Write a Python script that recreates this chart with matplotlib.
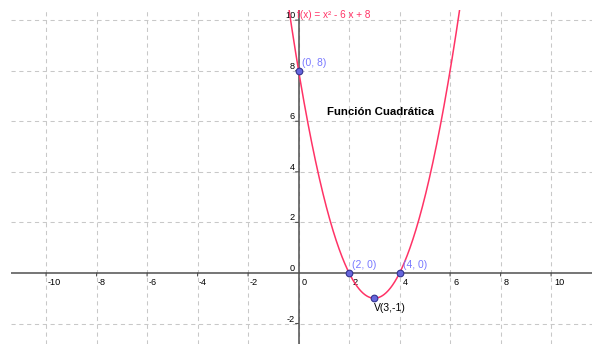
import matplotlib
matplotlib.use("Agg")
import matplotlib.pyplot as plt
import matplotlib.transforms as mtransforms
import numpy as np

plt.rcParams["font.family"] = ["Liberation Sans", "DejaVu Sans"]

# f(x) = a x^2 + b x + c
a, b, c = 1, -6, 8
func_label = "f(x) = x² - 6 x + 8"
title_text = "Función Cuadrática"

x_ticks = [-10, -8, -6, -4, -2, 0, 2, 4, 6, 8, 10]
y_ticks = [-2, 0, 2, 4, 6, 8, 10]

# intercepts and vertex
pt_x = [0, 2, 4, 3]
pt_y = [8, 0, 0, -1]
pt_labels = ["(0, 8)", "(2, 0)", "(4, 0)", "V(3,-1)"]

x_range = (-11.39, 11.62)
y_range = (-2.81, 10.40)

curve_color = "#FF3366"
point_label_color = "#7878FF"
grid_color = "#C8C8C8"
axis_color = "#505050"


def offset(ax, dx_px, dy_px):
    fig = ax.figure
    return ax.transData + mtransforms.ScaledTranslation(
        dx_px / fig.dpi, dy_px / fig.dpi, fig.dpi_scale_trans
    )


def tick_mark(ax, x, y, dx, dy):
    ax.annotate("", xy=(x, y), xytext=(dx, dy), textcoords="offset points",
                arrowprops=dict(arrowstyle="-", color=axis_color, lw=0.8,
                                shrinkA=0, shrinkB=0))


def main():
    fig = plt.figure(figsize=(5.92, 3.44), dpi=100)
    ax = fig.add_axes([11 / 592, 0, 581 / 592, 334 / 344])
    ax.set_xlim(*x_range)
    ax.set_ylim(*y_range)
    ax.set_axis_off()

    # dashed grid
    for v in x_ticks:
        ax.axvline(v, color=grid_color, lw=0.75, dashes=(4, 3.5), zorder=1)
    for v in y_ticks:
        if v != 0:
            ax.axhline(v, color=grid_color, lw=0.75, dashes=(4, 3.5), zorder=1)

    # axes through the origin
    ax.axhline(0, color=axis_color, lw=1.1, zorder=2)
    ax.axvline(0, color=axis_color, lw=1.1, zorder=2)

    # tick marks and labels
    for v in x_ticks:
        if v != 0:
            tick_mark(ax, v, 0, 0, -2.2)
        dx = 1 if v < 0 else 3
        ax.text(v, 0, str(v), transform=offset(ax, dx, -12), fontsize=6.6,
                ha="left", va="baseline", color="#000000", zorder=3)
    for v in y_ticks:
        if v != 0:
            tick_mark(ax, 0, v, -2.2, 0)
        ax.text(0, v, str(v), transform=offset(ax, -3.5, 2), fontsize=6.6,
                ha="right", va="baseline", color="#000000", zorder=3)

    # parabola
    xs = np.linspace(-1.0, 7.0, 600)
    ys = a * xs**2 + b * xs + c
    ax.plot(xs, ys, color=curve_color, lw=1.1, zorder=4)
    ax.text(0, 10, func_label, transform=offset(ax, -1.5, 5.5), fontsize=7.2,
            color=curve_color, ha="left", va="center", zorder=5)

    # labelled points
    ax.plot(pt_x, pt_y, "o", ms=4.8, mfc="#6666DD", mec="#33338F", mew=0.8,
            zorder=6, clip_on=False)
    for px, py, lab in zip(pt_x, pt_y, pt_labels):
        if lab.startswith("V"):
            ax.text(px, py, lab, transform=offset(ax, 0, -9.5), fontsize=7.5,
                    color="#000000", ha="left", va="center", zorder=6)
        else:
            ax.text(px, py, lab, transform=offset(ax, 3, 7.5), fontsize=7.5,
                    color=point_label_color, ha="left", va="center", zorder=6)

    ax.text(1.13, 6.38, title_text, fontsize=8.2, fontweight="bold",
            ha="left", va="center", color="#000000", zorder=5)

    fig.savefig("out.png", dpi=100, facecolor="white")


if __name__ == "__main__":
    main()
